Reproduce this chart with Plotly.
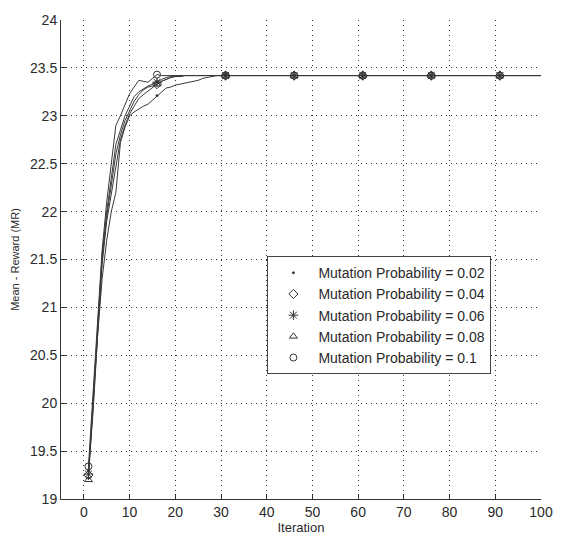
import plotly.graph_objects as go

# Iterations where line data are given
iters = [1, 2, 3, 4, 5, 6, 7, 8, 9, 10, 11, 12, 13, 14, 15, 16, 17, 18, 19, 20,
         21, 22, 23, 24, 25, 26, 27, 28, 29, 30, 31, 46, 61, 76, 91, 100]

mp_002 = [19.30, 19.90, 20.70, 21.30, 21.70, 22.00, 22.20, 22.72, 22.88, 23.00,
          23.04, 23.07, 23.10, 23.12, 23.16, 23.21, 23.25, 23.29, 23.30, 23.32,
          23.33, 23.34, 23.35, 23.36, 23.37, 23.39, 23.40, 23.41, 23.42, 23.42,
          23.42, 23.42, 23.42, 23.42, 23.42, 23.42]
mp_004 = [19.25, 20.00, 20.80, 21.50, 21.95, 22.30, 22.60, 22.80, 22.95, 23.05,
          23.15, 23.22, 23.27, 23.30, 23.31, 23.33, 23.36, 23.38, 23.40, 23.41,
          23.41, 23.42, 23.42, 23.42, 23.42, 23.42, 23.42, 23.42, 23.42, 23.42,
          23.42, 23.42, 23.42, 23.42, 23.42, 23.42]
mp_006 = [19.26, 20.05, 20.85, 21.55, 22.00, 22.35, 22.70, 22.85, 23.00, 23.10,
          23.20, 23.25, 23.28, 23.31, 23.33, 23.35, 23.38, 23.40, 23.41, 23.42,
          23.42, 23.42, 23.42, 23.42, 23.42, 23.42, 23.42, 23.42, 23.42, 23.42,
          23.42, 23.42, 23.42, 23.42, 23.42, 23.42]
mp_008 = [19.20, 19.95, 20.75, 21.45, 21.90, 22.20, 22.50, 22.75, 22.90, 23.02,
          23.10, 23.18, 23.22, 23.26, 23.30, 23.33, 23.36, 23.38, 23.40, 23.41,
          23.41, 23.42, 23.42, 23.42, 23.42, 23.42, 23.42, 23.42, 23.42, 23.42,
          23.42, 23.42, 23.42, 23.42, 23.42, 23.42]
mp_010 = [19.34, 20.10, 20.90, 21.60, 22.10, 22.50, 22.90, 23.00, 23.12, 23.23,
          23.30, 23.37, 23.36, 23.35, 23.39, 23.43, 23.42, 23.42, 23.42, 23.42,
          23.42, 23.42, 23.42, 23.42, 23.42, 23.42, 23.42, 23.42, 23.42, 23.42,
          23.42, 23.42, 23.42, 23.42, 23.42, 23.42]

marker_iters = [1, 16, 31, 46, 61, 76, 91]

series_names = ["Mutation Probability = 0.02", "Mutation Probability = 0.04",
                "Mutation Probability = 0.06", "Mutation Probability = 0.08",
                "Mutation Probability = 0.1"]
series_vals = [mp_002, mp_004, mp_006, mp_008, mp_010]
symbols = ["circle", "diamond-open", "asterisk-open", "triangle-up-open", "circle-open"]
sizes = [2, 7, 8, 7, 7]

x_ticks = [0, 10, 20, 30, 40, 50, 60, 70, 80, 90, 100]
y_ticks = [19, 19.5, 20, 20.5, 21, 21.5, 22, 22.5, 23, 23.5, 24]
y_ticktext = ["19", "19.5", "20", "20.5", "21", "21.5", "22", "22.5", "23", "23.5", "24"]

LINE = "#3a3a3a"
GRID_DASH = "1px,4px"
fig = go.Figure()

for vals in series_vals:
    fig.add_trace(go.Scatter(x=iters, y=vals, mode="lines",
                             line=dict(color=LINE, width=1),
                             showlegend=False, hoverinfo="skip"))

for name, vals, sym, sz in zip(series_names, series_vals, symbols, sizes):
    my = [vals[iters.index(i)] for i in marker_iters]
    fig.add_trace(go.Scatter(x=marker_iters, y=my, mode="markers", name=name,
                             marker=dict(symbol=sym, size=sz, color="#333333",
                                         line=dict(color="#333333", width=1))))

fig.update_layout(
    width=565, height=543,
    margin=dict(l=61, r=13, t=13, b=39),
    paper_bgcolor="white", plot_bgcolor="white",
    font=dict(family="Liberation Sans, Arial, sans-serif", size=14, color="#2a2a2a"),
    legend=dict(x=0.43, y=0.507, xanchor="left", yanchor="top",
                bgcolor="white", bordercolor="#444444", borderwidth=1,
                font=dict(size=14, color="#2a2a2a"), tracegroupgap=0,
                itemwidth=40),
    xaxis=dict(range=[-5, 100], tickvals=x_ticks, ticks="inside", ticklen=5,
               tickcolor="#333333", showline=True, linecolor="#333333", linewidth=1,
               showgrid=True, gridcolor="#333333", gridwidth=1, griddash=GRID_DASH,
               zeroline=False, mirror=False, tickfont=dict(size=14),
               title=dict(text="Iteration", font=dict(size=13), standoff=2)),
    yaxis=dict(range=[19, 24], tickvals=y_ticks, ticktext=y_ticktext,
               ticks="inside", ticklen=5, tickcolor="#333333",
               showline=True, linecolor="#333333", linewidth=1,
               showgrid=True, gridcolor="#333333", gridwidth=1, griddash=GRID_DASH,
               zeroline=False, mirror=False, tickfont=dict(size=14),
               title=dict(text="Mean - Reward (MR)", font=dict(size=11), standoff=8)),
)

fig.write_html("out.html")
